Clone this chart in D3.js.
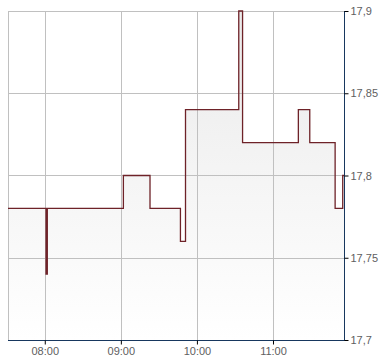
<!DOCTYPE html>
<html><head><meta charset="utf-8">
<script src="https://cdn.jsdelivr.net/npm/d3@7"></script>
<style>body{margin:0;background:#fff}svg{display:block}</style>
</head><body>
<svg id="c" width="390" height="364"></svg>
<script>
const times = ["07:31","08:01","08:02","09:02","09:23","09:47","09:51","10:33","10:36","11:20","11:29","11:49","11:55","11:56"];
const values = [17.78,17.74,17.78,17.80,17.78,17.76,17.84,17.90,17.82,17.84,17.82,17.78,17.80,17.80];
const xTickLabels = ["08:00","09:00","10:00","11:00"];
const yTicks = [17.7,17.75,17.8,17.85,17.9];
const yTickLabels = ["17,7","17,75","17,8","17,85","17,9"];
const xDomain = ["07:31","11:56"];

const parse = d3.timeParse("%H:%M");
const data = times.map((t,i)=>({t:parse(t), v:values[i]}));

const L=8, R=344, T=11, B=340;
const svg = d3.select("#c");
const x = d3.scaleTime().domain(xDomain.map(parse)).range([L,R]);
const y = d3.scaleLinear().domain([17.7,17.9]).range([B,T]);

const defs = svg.append("defs");
const g = defs.append("linearGradient").attr("id","fillg").attr("gradientUnits","userSpaceOnUse")
  .attr("x1",0).attr("x2",0).attr("y1",T).attr("y2",B);
g.append("stop").attr("offset","0").attr("stop-color","#eaeaea");
g.append("stop").attr("offset","1").attr("stop-color","#ffffff");

// area
svg.append("path").datum(data)
  .attr("d", d3.area().curve(d3.curveStepAfter).x(d=>x(d.t)).y0(B).y1(d=>y(d.v)))
  .attr("fill","url(#fillg)");

// grid
const grid = svg.append("g").attr("stroke","#c0c0c0").attr("stroke-width",1).attr("shape-rendering","crispEdges");
xTickLabels.forEach(s=>{
  const xx = Math.round(x(parse(s)))+0.5;
  grid.append("line").attr("x1",xx).attr("x2",xx).attr("y1",T).attr("y2",B);
});
yTicks.forEach(v=>{
  const yy = Math.round(y(v))+0.5;
  grid.append("line").attr("x1",L).attr("x2",R).attr("y1",yy).attr("y2",yy);
});
grid.append("line").attr("x1",L+0.5).attr("x2",L+0.5).attr("y1",T).attr("y2",B);

// line
svg.append("path").datum(data)
  .attr("d", d3.line().curve(d3.curveStepAfter).x(d=>x(d.t)).y(d=>y(d.v)))
  .attr("fill","none").attr("stroke","#6e2228").attr("stroke-width",1.3);

// axes
const font = "'Liberation Sans', Arial, sans-serif";
const yAxis = d3.axisRight(y).tickValues(yTicks).tickSize(4).tickPadding(2)
  .tickFormat((d,i)=>yTickLabels[i]);
const ya = svg.append("g").attr("transform",`translate(${R+0.5},0)`).call(yAxis);
ya.select(".domain").attr("stroke","#17375e").attr("d",`M0,${T}V${B}`);
ya.selectAll(".tick line").attr("stroke","#000");
ya.selectAll("text").attr("fill","#606060").style("font-family",font).style("font-size","11px");

const xAxis = d3.axisBottom(x).tickValues(xTickLabels.map(parse)).tickSize(4).tickPadding(3)
  .tickFormat((d,i)=>xTickLabels[i]);
const xa = svg.append("g").attr("transform",`translate(0,${B+0.5})`).call(xAxis);
xa.select(".domain").attr("stroke","#17375e").attr("d",`M${L},0H${R+1}`);
xa.selectAll(".tick line").attr("stroke","#000");
xa.selectAll("text").attr("fill","#606060").style("font-family",font).style("font-size","11px");
ya.raise();
</script>
</body></html>
